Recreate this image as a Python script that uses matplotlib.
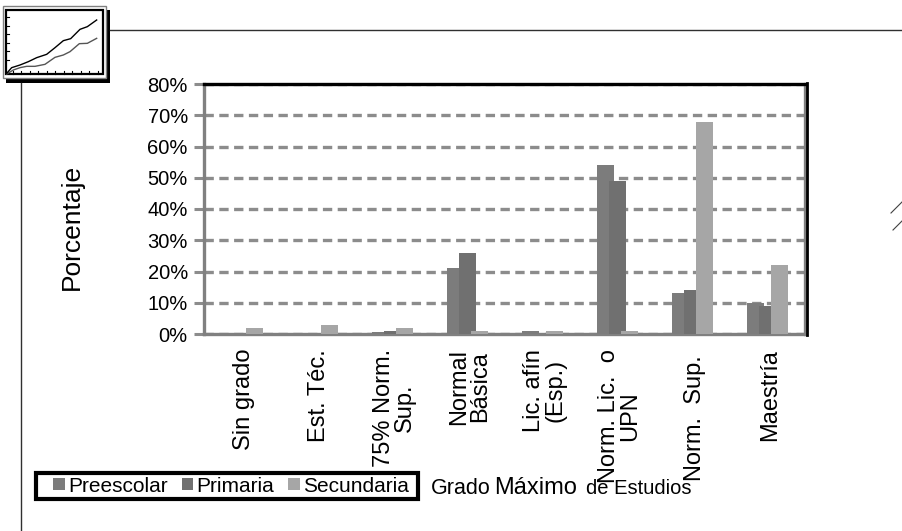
"""plot.py - Porcentaje por grado maximo de estudios."""
import numpy as np
import matplotlib
matplotlib.use("Agg")
import matplotlib.pyplot as plt
from matplotlib.patches import Rectangle

categorias = ["Sin grado", "Est. Téc.", "75% Norm.\nSup.", "Normal\nBásica",
              "Lic. afín\n(Esp.)", "Norm. Lic.  o\nUPN", "Norm.  Sup. ", "Maestría"]
preescolar = [0, 0, 0.5, 21, 1, 54, 13, 10]
primaria = [0, 0, 1, 26, 0, 49, 14, 9]
secundaria = [2, 3, 2, 1, 1, 1, 68, 22]
series = ["Preescolar", "Primaria", "Secundaria"]
colores = ["#7c7c7c", "#707070", "#a6a6a6"]
yticks = [0, 10, 20, 30, 40, 50, 60, 70, 80]

# icono: curvas de la miniatura (pixeles de la imagen x 3)
icono_negra = [(20, 220), (35, 203), (60, 195), (85, 185), (110, 173), (140, 163),
               (165, 143), (190, 122), (212, 116), (240, 88), (262, 80), (290, 60)]
icono_gris = [(20, 222), (40, 210), (60, 203), (80, 199), (105, 199), (135, 193),
              (165, 172), (190, 165), (210, 155), (238, 131), (262, 130), (290, 115)]

W, H = 903, 531
plt.rcParams["font.family"] = ["Liberation Sans", "DejaVu Sans"]

fig = plt.figure(figsize=(W / 100, H / 100), dpi=100, facecolor="white")

L, R, T, B = 204.5, 805.5, 84, 334
ax = fig.add_axes([L / W, 1 - B / H, (R - L) / W, (B - T) / H])
ax.set_xlim(0, 8)
ax.set_ylim(0, 80)

x = np.arange(8) + 0.5
paso, ancho = 0.16, 0.226
barras = []
for i, vals in enumerate([preescolar, primaria, secundaria]):
    barras.append(ax.bar(x + (i - 1) * paso, vals, ancho, color=colores[i],
                         zorder=3 + i, label=series[i]))

ax.set_yticks(yticks)
ax.set_yticklabels([f"{v}%" for v in yticks], fontsize=14.5)
ax.set_xticks([])
ax.tick_params(axis="y", length=7, width=2.2, color="#8c8c8c", pad=5)
ax.yaxis.grid(True, color="#8c8c8c", lw=2.4, ls=(0, (2.8, 1.64)), zorder=1)
ax.set_axisbelow(True)
for s in ["left", "bottom", "right"]:
    ax.spines[s].set_color("#808080")
    ax.spines[s].set_linewidth(2.4)
ax.spines["top"].set_color("black")
ax.spines["top"].set_linewidth(2.4)

# capa en pixeles para textos y adornos
ov = fig.add_axes([0, 0, 1, 1], zorder=10)
ov.set_xlim(0, W)
ov.set_ylim(H, 0)
ov.axis("off")

ov.plot([807.3, 807.3], [83, 335], color="black", lw=2)

for xc, cat in zip(x, categorias):
    px = L + xc * (R - L) / 8 + 2
    ov.text(px, 349, cat, rotation=90, ha="center", va="top", multialignment="center",
            fontsize=17, linespacing=0.97, color="black")

ov.text(72, 227, "Porcentaje", rotation=90, ha="center", va="center", fontsize=19)

# leyenda
ov.add_patch(Rectangle((36, 472.5), 382, 26, fill=False, ec="black", lw=3, zorder=5))
ov.legend([b[0] for b in barras], series, loc="center left", frameon=False,
          bbox_to_anchor=(53 / W, 1 - 486 / H), bbox_transform=fig.transFigure,
          ncol=3, fontsize=15, borderpad=0, borderaxespad=0, handlelength=0.56,
          handleheight=0.56, handletextpad=0.15, columnspacing=0.68)

# titulo del eje x
ov.text(431, 494, "Grado", fontsize=15.5, ha="left", va="baseline")
ov.text(494, 494, "Máximo", fontsize=17, ha="left", va="baseline")
ov.text(586, 494, "de Estudios", fontsize=14.5, ha="left", va="baseline")

# lineas del marco de la pagina
ov.plot([110, W], [29.5, 29.5], color="#303030", lw=1)
ov.plot([21.5, 21.5], [83, H], color="#303030", lw=1)
ov.plot([891, 903], [213, 201], color="#404040", lw=0.8)
ov.plot([893, 903], [230, 220], color="#404040", lw=0.8)

# icono de la esquina
ov.add_patch(Rectangle((6, 10), 104, 73, fc="black", ec="none"))
ov.add_patch(Rectangle((3, 6), 103, 72, fc="white", ec="#808080", lw=1))
ov.add_patch(Rectangle((6, 10), 97, 64, fc="white", ec="black", lw=1.6))
ov.plot([p[0] / 3 for p in icono_gris], [p[1] / 3 for p in icono_gris], color="#555555", lw=1)
ov.plot([p[0] / 3 for p in icono_negra], [p[1] / 3 for p in icono_negra], color="black", lw=1)
for k in range(6):
    yy = 17 + k * 8.6
    ov.plot([6, 9.5], [yy, yy], color="black", lw=0.8)
for k in range(11):
    xx = 13 + k * 8.5
    ov.plot([xx, xx], [71, 74], color="black", lw=0.8)

fig.savefig("out.png", dpi=100, facecolor="white")
plt.close(fig)
